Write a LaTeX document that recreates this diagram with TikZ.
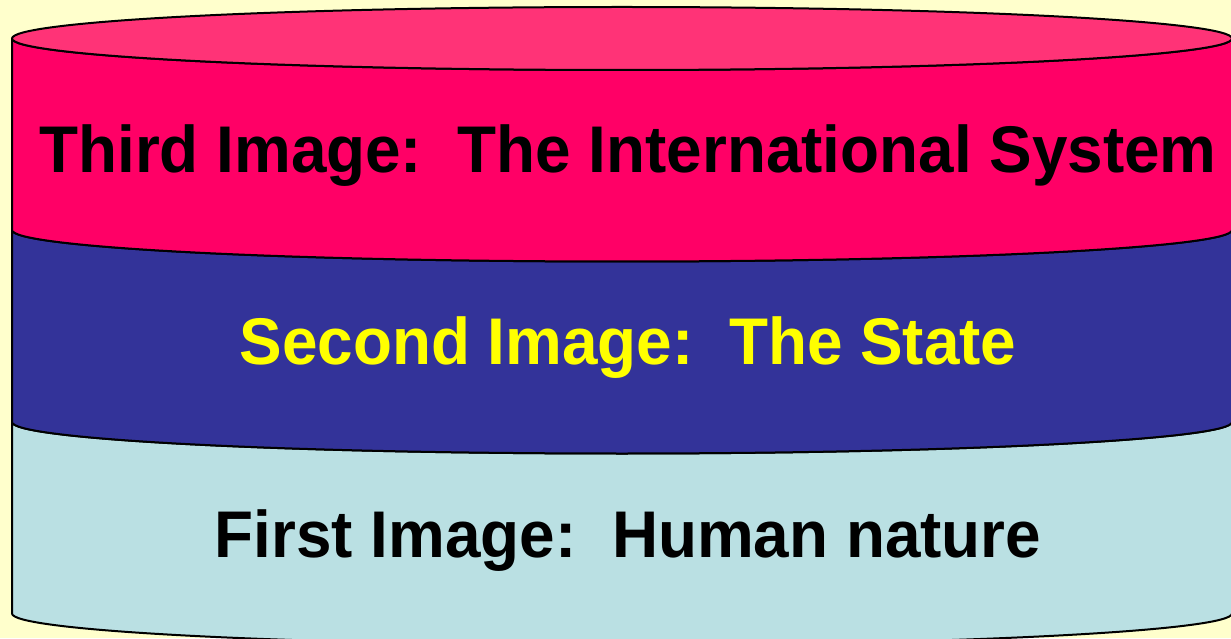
\documentclass[tikz,border=0pt]{standalone}
\usepackage{fontspec}
\setmainfont[FakeStretch=0.967]{Liberation Sans}
\definecolor{bgyellow}{HTML}{FFFFCC}
\definecolor{toppink}{HTML}{FF3377}
\definecolor{bandred}{HTML}{FF0066}
\definecolor{bandblue}{HTML}{333399}
\definecolor{bandcyan}{HTML}{BAE0E3}
\definecolor{txtyellow}{HTML}{FFFF00}
\tikzset{
  band/.style={draw=black, line width=2pt, line join=round},
  label/.style={anchor=base, inner sep=0pt, font=\fontsize{66}{79}\selectfont\bfseries},
}
\begin{document}
\begin{tikzpicture}[x=1pt,y=1pt]
\useasboundingbox (0,0) rectangle (1231,638);
\fill[bgyellow] (0,0) rectangle (1231,638);
\clip (0,0) rectangle (1231,638);
% bottom band
\path[band, fill=bandcyan] (12,216) -- (12,24.5)
  arc[start angle=180, end angle=360, x radius=610, y radius=31.5]
  -- (1232,216)
  arc[start angle=0, end angle=-180, x radius=610, y radius=31.5] -- cycle;
% middle band
\path[band, fill=bandblue] (12,408) -- (12,216)
  arc[start angle=180, end angle=360, x radius=610, y radius=31.5]
  -- (1232,408)
  arc[start angle=0, end angle=-180, x radius=610, y radius=31.5] -- cycle;
% top band
\path[band, fill=bandred] (12,599.5) -- (12,408)
  arc[start angle=180, end angle=360, x radius=610, y radius=31.5]
  -- (1232,599.5)
  arc[start angle=0, end angle=-180, x radius=610, y radius=31.5] -- cycle;
% top ellipse
\path[band, fill=toppink] (622,599.5) ellipse[x radius=610, y radius=31.5];
% labels
\node[label, text=black] (third) at (628,465.5) {Third Image:\ \ The International System};
\node[label, text=txtyellow] (second) at (628,274) {Second Image:\ \ The State};
\node[label, text=black] (first) at (628,81) {First Image:\ \ Human nature};
\end{tikzpicture}
\end{document}
